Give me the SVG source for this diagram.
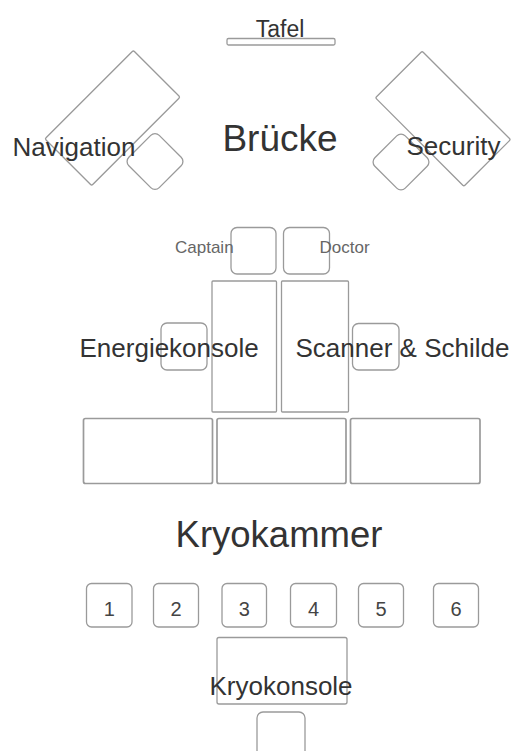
<svg xmlns="http://www.w3.org/2000/svg" width="515" height="751" viewBox="0 0 515 751">
  <style>
    .box { fill: none; stroke: #9a9a9a; stroke-width: 1.3; }
    .thick { stroke-width: 1.7; }
    .lbl { font-family: "Liberation Sans", Arial, sans-serif; fill: #333; }
    .big { font-size: 37px; }
    .mid { font-size: 26px; }
    .sm { font-size: 17px; fill: #666; }
    .num { font-size: 20px; fill: #444; text-anchor: middle; }
    .c { text-anchor: middle; }
  </style>
  <rect width="515" height="751" fill="#fff"/>

  <!-- Bridge -->
  <g id="tafel">
    <rect class="box" x="227" y="38.5" width="108" height="6.5" rx="1.5"/>
    <text class="lbl c" x="280" y="36.5" font-size="23">Tafel</text>
  </g>
  <text id="bruecke" class="lbl big c" x="280" y="151">Brücke</text>

  <g id="navigation">
    <rect class="box" x="-62.5" y="-33" width="125" height="66" rx="1.5" transform="translate(112.5 118) rotate(-45)"/>
    <rect class="box" x="-21.5" y="-21.5" width="43" height="43" rx="6" transform="translate(155 161.5) rotate(45)"/>
    <text class="lbl mid" x="12.5" y="156">Navigation</text>
  </g>

  <g id="security">
    <rect class="box" x="-62.5" y="-33" width="125" height="66" rx="1.5" transform="translate(443 118.7) rotate(45)"/>
    <rect class="box" x="-21.5" y="-21.5" width="43" height="43" rx="6" transform="translate(401 162) rotate(45)"/>
    <text class="lbl mid" x="406.5" y="155">Security</text>
  </g>

  <!-- Seats -->
  <g id="captain">
    <rect class="box" x="231" y="227.5" width="45" height="46.5" rx="6"/>
    <text class="lbl sm" x="175" y="252.5">Captain</text>
  </g>
  <g id="doctor">
    <rect class="box" x="283.5" y="227.5" width="46" height="46.5" rx="6"/>
    <text class="lbl sm" x="319.5" y="252.5">Doctor</text>
  </g>

  <g id="konsole-links">
    <rect class="box" x="212" y="281" width="64.5" height="131" rx="1"/>
  </g>
  <g id="konsole-rechts">
    <rect class="box" x="281.5" y="281" width="67" height="131" rx="1"/>
  </g>

  <g id="energiekonsole">
    <rect class="box" x="161" y="323" width="46" height="47" rx="6"/>
    <text class="lbl mid" x="79.5" y="357">Energiekonsole</text>
  </g>
  <g id="scanner">
    <rect class="box" x="352.5" y="323.5" width="46.5" height="46.5" rx="6"/>
    <text class="lbl mid" x="295.5" y="357">Scanner &amp; Schilde</text>
  </g>

  <g id="block-1"><rect class="box thick" x="83.5" y="418.5" width="129" height="65" rx="2"/></g>
  <g id="block-2"><rect class="box thick" x="217" y="418.5" width="129" height="65" rx="2"/></g>
  <g id="block-3"><rect class="box thick" x="350.5" y="418.5" width="129.5" height="65" rx="2"/></g>

  <!-- Cryo chamber -->
  <text id="kryokammer" class="lbl c" x="279" y="546.5" font-size="36.5">Kryokammer</text>

  <g id="kapsel-1">
    <rect class="box" x="86.5" y="583.5" width="45.5" height="43.5" rx="5"/>
    <text class="lbl num" x="109.3" y="615.5">1</text>
  </g>
  <g id="kapsel-2">
    <rect class="box" x="153.5" y="583.5" width="45" height="43.5" rx="5"/>
    <text class="lbl num" x="176" y="615.5">2</text>
  </g>
  <g id="kapsel-3">
    <rect class="box" x="222" y="583.5" width="44.5" height="43.5" rx="5"/>
    <text class="lbl num" x="244.3" y="615.5">3</text>
  </g>
  <g id="kapsel-4">
    <rect class="box" x="290.5" y="583.5" width="46" height="43.5" rx="5"/>
    <text class="lbl num" x="313.5" y="615.5">4</text>
  </g>
  <g id="kapsel-5">
    <rect class="box" x="358.5" y="583.5" width="45" height="43.5" rx="5"/>
    <text class="lbl num" x="381" y="615.5">5</text>
  </g>
  <g id="kapsel-6">
    <rect class="box" x="433.5" y="583.5" width="45" height="43.5" rx="5"/>
    <text class="lbl num" x="456" y="615.5">6</text>
  </g>

  <g id="kryokonsole">
    <rect class="box" x="217" y="637.5" width="130" height="66.5" rx="2"/>
    <text class="lbl mid" x="209.5" y="695">Kryokonsole</text>
  </g>
  <g id="sitz-kryo">
    <rect class="box" x="257" y="712" width="48" height="50" rx="6"/>
  </g>
</svg>
